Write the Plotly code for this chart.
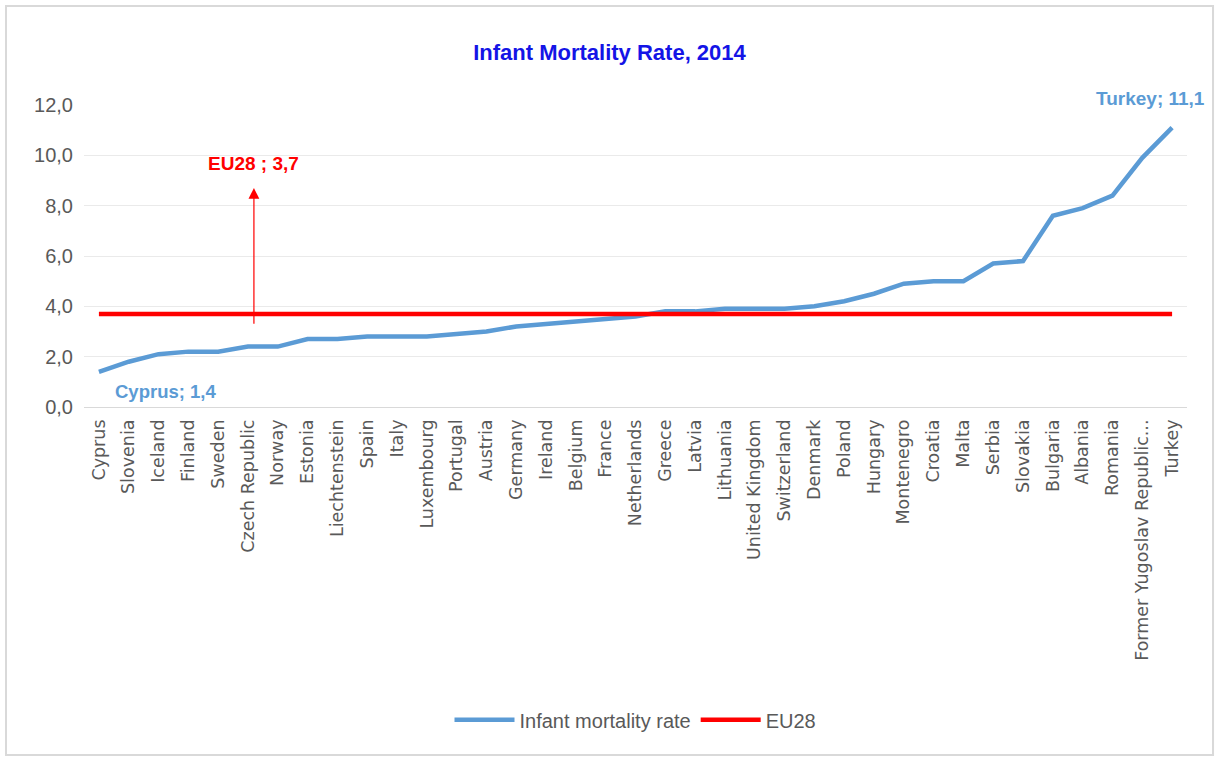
import plotly.graph_objects as go

countries = ["Cyprus", "Slovenia", "Iceland", "Finland", "Sweden", "Czech Republic", "Norway",
             "Estonia", "Liechtenstein", "Spain", "Italy", "Luxembourg", "Portugal", "Austria",
             "Germany", "Ireland", "Belgium", "France", "Netherlands", "Greece", "Latvia",
             "Lithuania", "United Kingdom", "Switzerland", "Denmark", "Poland", "Hungary",
             "Montenegro", "Croatia", "Malta", "Serbia", "Slovakia", "Bulgaria", "Albania",
             "Romania", "Former Yugoslav Republic...", "Turkey"]
rates = [1.4, 1.8, 2.1, 2.2, 2.2, 2.4, 2.4, 2.7, 2.7, 2.8, 2.8, 2.8, 2.9, 3.0, 3.2, 3.3, 3.4,
         3.5, 3.6, 3.8, 3.8, 3.9, 3.9, 3.9, 4.0, 4.2, 4.5, 4.9, 5.0, 5.0, 5.7, 5.8, 7.6, 7.9,
         8.4, 9.9, 11.1]
eu28_value = 3.7
eu28 = [eu28_value] * len(countries)
y_ticks = [0, 2, 4, 6, 8, 10, 12]

BLUE = "#5B9BD5"
RED = "#FF0000"
GRAY = "#595959"
FONT = "Liberation Sans, Arial, sans-serif"

fig = go.Figure()
fig.add_trace(go.Scatter(x=countries, y=rates, mode="lines", name="Infant mortality rate",
                         line=dict(color=BLUE, width=4.5)))
fig.add_trace(go.Scatter(x=countries, y=eu28, mode="lines", name="EU28",
                         line=dict(color=RED, width=4.5)))

# data labels
fig.add_annotation(x=0, y=rates[0], text="<b>Cyprus; 1,4</b>", showarrow=False,
                   xanchor="left", yanchor="middle", xshift=14, yshift=-20,
                   font=dict(color=BLUE, size=18.5, family=FONT))
fig.add_annotation(x=len(countries) - 1, y=rates[-1], text="<b>Turkey; 11,1</b>", showarrow=False,
                   xanchor="center", yanchor="middle", xshift=-22, yshift=29,
                   font=dict(color=BLUE, size=19, family=FONT))
# EU28 callout with arrow
fig.add_annotation(x=5.2, y=8.7, ax=5.2, ay=3.25, axref="x", ayref="y",
                   text="", showarrow=True, arrowhead=2, arrowsize=1.8, arrowwidth=1.2,
                   arrowcolor=RED)
fig.add_annotation(x=5.2, y=9.69, text="<b>EU28 ; 3,7</b>", showarrow=False,
                   xanchor="center", yanchor="middle",
                   font=dict(color=RED, size=19, family=FONT))

fig.update_layout(
    width=1219, height=758,
    paper_bgcolor="white", plot_bgcolor="white",
    separators=",.",
    title=dict(text="<b>Infant Mortality Rate, 2014</b>", x=0.5, xanchor="center",
               y=1 - 52 / 758, yanchor="middle",
               font=dict(color="#1414E6", size=22, family=FONT)),
    margin=dict(l=84, r=32, t=105, b=351),
    showlegend=True,
    legend=dict(orientation="h", x=0.5, xanchor="center", y=-1.036, yanchor="middle",
                font=dict(color=GRAY, size=20, family=FONT), itemwidth=60),
    xaxis=dict(type="category", tickangle=-90, showgrid=False, showline=False,
               ticks="", ticklabelstandoff=8,
               tickfont=dict(color=GRAY, size=17.5, family="DejaVu Sans"),
               range=[-0.5, len(countries) - 0.5]),
    yaxis=dict(range=[0, 12], tickvals=y_ticks, tickformat=".1f", showgrid=True,
               gridcolor="#EAEAEA", gridwidth=1, zeroline=True, zerolinecolor="#D9D9D9",
               zerolinewidth=1, showline=False, ticks="", ticklabelstandoff=10,
               tickfont=dict(color=GRAY, size=20, family=FONT)),
    shapes=[dict(type="rect", xref="paper", yref="paper", x0=-0.0707, x1=1.0236,
                 y0=-1.152, y1=1.328, line=dict(color="#D9D9D9", width=2))],
)

fig.write_html("out.html", config={"displayModeBar": False},
               post_script="document.body.style.margin='0px';")
